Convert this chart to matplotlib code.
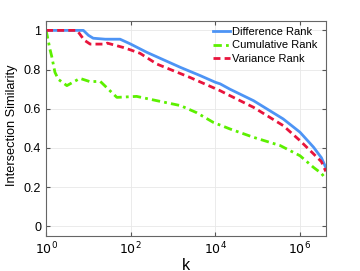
import matplotlib
matplotlib.use("Agg")
import matplotlib.pyplot as plt

plt.rcParams['font.family'] = ['Liberation Sans', 'DejaVu Sans']

# Difference Rank
k_diff = [1, 7.6, 10, 13, 25, 56, 100, 240, 1500, 4400, 1e4, 1.3e4, 2.2e4, 8e4, 4e5, 1e6, 2.1e6, 3.2e6, 4.07e6]
v_diff = [1.0, 1.0, 0.975, 0.96, 0.955, 0.955, 0.93, 0.888, 0.811, 0.769, 0.735, 0.727, 0.70, 0.641, 0.548, 0.48, 0.403, 0.35, 0.30]

# Cumulative Rank
k_cum = [1, 1.12, 1.23, 1.35, 1.62, 1.95, 3.1, 6.3, 11, 19, 47, 138, 417, 1500, 3600, 9000, 2.2e4, 8e4, 3.4e5, 1e6, 2.1e6, 3.2e6, 4.07e6]
v_cum = [1.0, 0.95, 0.905, 0.87, 0.786, 0.75, 0.718, 0.755, 0.738, 0.74, 0.658, 0.663, 0.641, 0.616, 0.58, 0.53, 0.497, 0.454, 0.412, 0.36, 0.30, 0.27, 0.242]

# Variance Rank
k_var = [1, 5.4, 8, 11, 25, 28, 66, 100, 166, 417, 2500, 1.3e4, 2.2e4, 8e4, 4e5, 1e6, 2.1e6, 3.2e6, 4.07e6]
v_var = [1.0, 1.0, 0.95, 0.93, 0.93, 0.935, 0.913, 0.90, 0.883, 0.828, 0.76, 0.692, 0.667, 0.607, 0.514, 0.437, 0.369, 0.33, 0.28]

fig = plt.figure(figsize=(3.6, 2.71), dpi=100)
ax = fig.add_axes([0.128, 0.129, 0.777, 0.795])

ax.plot(k_diff, v_diff, color='#4d94f5', lw=2.0, ls='-', label='Difference Rank')
ax.plot(k_cum, v_cum, color='#5cf000', lw=2.0, ls=(0, (3, 1.5, 1, 1.5)), label='Cumulative Rank')
ax.plot(k_var, v_var, color='#e8143c', lw=2.0, ls=(0, (2.5, 1.5)), label='Variance Rank')

ax.set_xscale('log')
ax.set_xlim(1, 4.07e6)
ax.set_ylim(-0.05, 1.05)
ax.set_xticks([1, 1e2, 1e4, 1e6])
ax.set_xticklabels(['$10^0$', '$10^2$', '$10^4$', '$10^6$'])
ax.xaxis.set_minor_locator(matplotlib.ticker.NullLocator())
ax.set_yticks([0, 0.2, 0.4, 0.6, 0.8, 1])
ax.set_yticklabels(['0', '0.2', '0.4', '0.6', '0.8', '1'])
ax.grid(True, color='#e8e8e8', lw=0.6)
ax.set_axisbelow(True)
ax.tick_params(direction='in', top=True, right=True, labelsize=9, colors='#555555', labelcolor='black', length=3)
for s in ax.spines.values():
    s.set_color('#666666')
    s.set_linewidth(0.8)

ax.set_xlabel('k', fontsize=11.5, labelpad=0)
ax.set_ylabel('Intersection Similarity', fontsize=9.2)
ax.yaxis.set_label_coords(-0.102, 0.516)

leg = ax.legend(loc='upper right', bbox_to_anchor=(0.993, 1.0), frameon=False, fontsize=8,
                handlelength=1.5, borderaxespad=0.15, labelspacing=0.34, handletextpad=0.2)

fig.savefig('out.png', dpi=100)
